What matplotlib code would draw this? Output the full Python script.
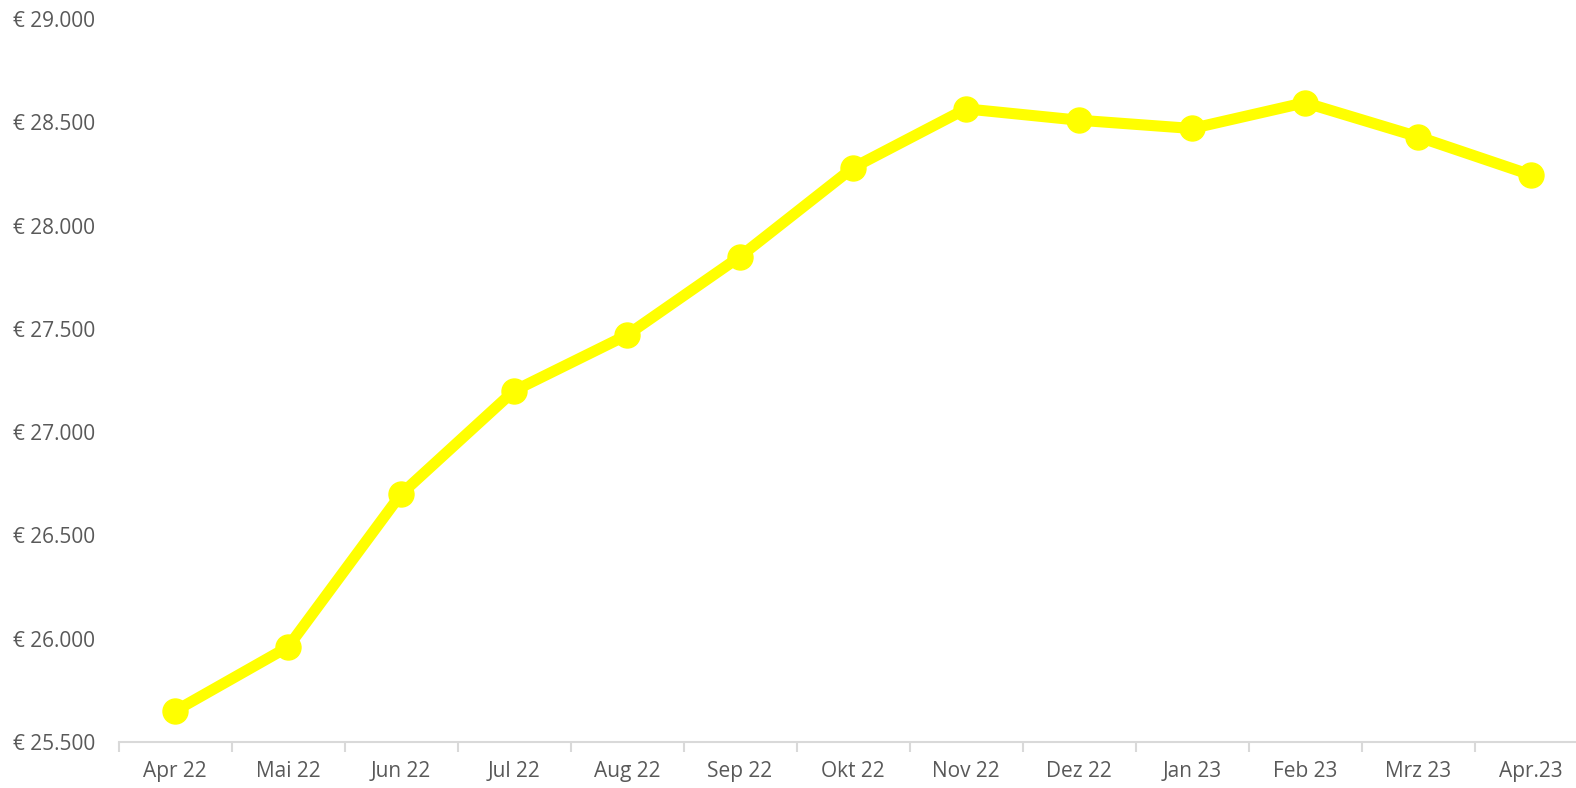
import matplotlib.pyplot as plt
from matplotlib.ticker import FuncFormatter

# Daten
monate = ["Apr 22", "Mai 22", "Jun 22", "Jul 22", "Aug 22", "Sep 22", "Okt 22",
          "Nov 22", "Dez 22", "Jan 23", "Feb 23", "Mrz 23", "Apr.23"]
werte = [25650, 25960, 26700, 27200, 27470, 27850, 28280,
         28565, 28510, 28470, 28595, 28430, 28245]
y_ticks = [25500, 26000, 26500, 27000, 27500, 28000, 28500, 29000]

plt.rcParams['font.family'] = ['Open Sans', 'DejaVu Sans']
grau = '#595959'

fig = plt.figure(figsize=(15.76, 7.88), dpi=100)
ax = fig.add_axes([118.5 / 1576, 46 / 788, 1469 / 1576, 723 / 788])

x = range(len(monate))
ax.plot(x, werte, color='#FFFF00', linewidth=8, marker='o', markersize=18,
        solid_capstyle='round', clip_on=False, zorder=3)

ax.set_xlim(-0.5, len(monate) - 0.5)
ax.set_ylim(25500, 29000)
ax.set_yticks(y_ticks)
ax.yaxis.set_major_formatter(FuncFormatter(lambda v, p: "€ " + f"{int(v):,}".replace(",", ".")))

ax.set_xticks(list(x))
ax.set_xticklabels(monate)
ax.set_xticks([i - 0.5 for i in range(len(monate) + 1)], minor=True)

for s in ['top', 'right', 'left']:
    ax.spines[s].set_visible(False)
ax.spines['bottom'].set_color('#d9d9d9')
ax.spines['bottom'].set_linewidth(1.5)

ax.tick_params(axis='y', length=0, labelsize=15, labelcolor=grau)
ax.tick_params(axis='x', which='major', length=0, labelsize=15, labelcolor=grau, pad=14)
ax.tick_params(axis='x', which='minor', length=7, width=1.5, color='#d9d9d9')
for lbl in ax.get_yticklabels():
    lbl.set_horizontalalignment('left')
# Abstand in Punkten: Beschriftung beginnt ca. 13 px vom linken Rand
ax.yaxis.set_tick_params(pad=(118.5 - 13) * 72 / 100)

fig.savefig('out.png', dpi=100)
